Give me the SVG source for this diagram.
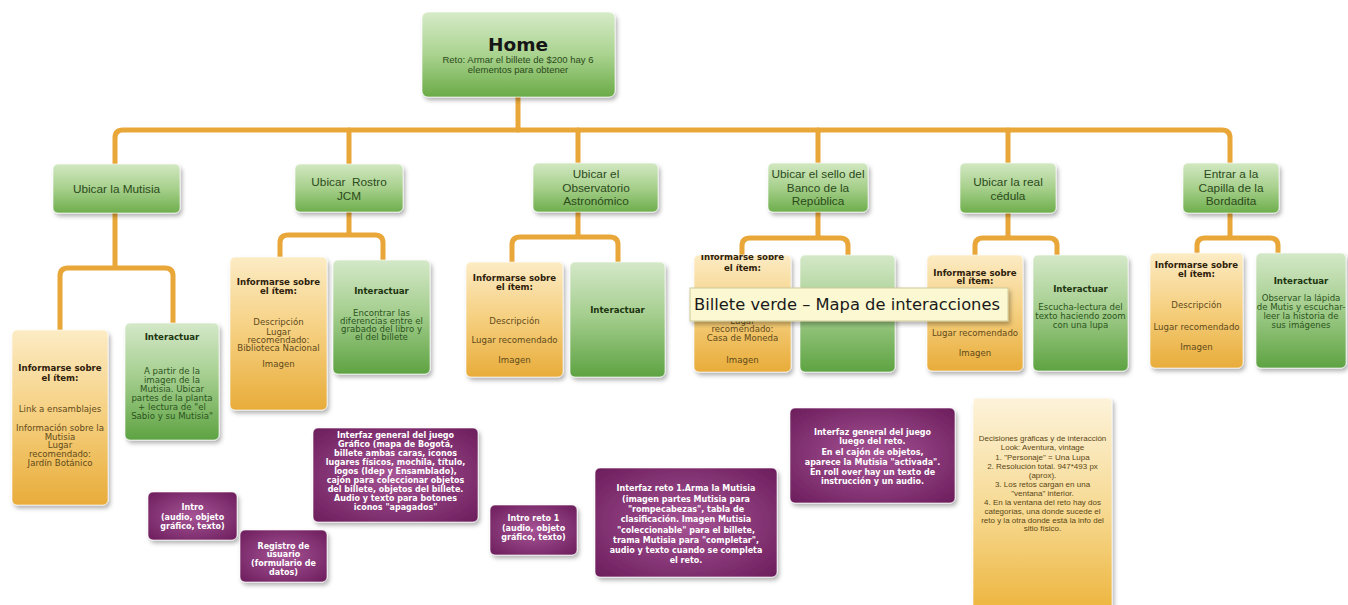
<svg xmlns="http://www.w3.org/2000/svg" width="1348" height="605" viewBox="0 0 1348 605">
<defs>
<linearGradient id="gL1" x1="0" y1="0" x2="0" y2="1"><stop offset="0" stop-color="#d2e8c2"/><stop offset="0.5" stop-color="#a7d08c"/><stop offset="1" stop-color="#6eae4c"/></linearGradient>
<linearGradient id="gHome" x1="0" y1="0" x2="0" y2="1"><stop offset="0" stop-color="#d6ebc8"/><stop offset="0.5" stop-color="#aad38f"/><stop offset="1" stop-color="#6aab47"/></linearGradient>
<linearGradient id="gG2" x1="0" y1="0" x2="0" y2="1"><stop offset="0" stop-color="#d4e8c8"/><stop offset="0.45" stop-color="#a6cf90"/><stop offset="1" stop-color="#5ea342"/></linearGradient>
<linearGradient id="gY" x1="0" y1="0" x2="0" y2="1"><stop offset="0" stop-color="#fcebc4"/><stop offset="0.5" stop-color="#f5cf7e"/><stop offset="1" stop-color="#e8ac3a"/></linearGradient>
<linearGradient id="gYbig" x1="0" y1="0" x2="0" y2="1"><stop offset="0" stop-color="#fdf3da"/><stop offset="0.55" stop-color="#f6d88f"/><stop offset="1" stop-color="#edb53e"/></linearGradient>
<radialGradient id="gP" cx="0.5" cy="0.5" r="0.7"><stop offset="0" stop-color="#a65495"/><stop offset="1" stop-color="#6c1d5c"/></radialGradient>
<filter id="sh" x="-10%" y="-10%" width="130%" height="130%"><feDropShadow dx="2" dy="3" stdDeviation="2" flood-color="#000" flood-opacity="0.3"/></filter>
<clipPath id="clipBanco"><rect x="694" y="255" width="97" height="117" rx="5"/></clipPath>
</defs>
<style>
.box{filter:url(#sh);stroke:#ffffff;stroke-opacity:0.6;stroke-width:1}
.l1{fill:url(#gL1)}
.g2{fill:url(#gG2)}
.y2{fill:url(#gY)}
.pp{fill:url(#gP)}
.t1{font-family:"Liberation Sans",Arial,sans-serif;font-size:11.8px;fill:#2b4a1b;text-anchor:middle;white-space:pre}
.hd{font-family:"DejaVu Sans",Verdana,sans-serif;font-weight:bold;font-size:8.6px;text-anchor:middle}
.bd{font-family:"DejaVu Sans",Verdana,sans-serif;font-size:8.6px;text-anchor:middle}
.yh{fill:#2e210b}
.yb{fill:#5f4a1a}
.gh{fill:#1d3510}
.gb{fill:#2c5420}
.pt{font-family:"DejaVu Sans",Verdana,sans-serif;font-weight:bold;font-size:8px;fill:#ffffff;text-anchor:middle}
.bt{font-family:"Liberation Sans",Arial,sans-serif;font-size:8px;fill:#5a4716;text-anchor:middle}
.con{fill:none;stroke:#e9a739;stroke-width:5;stroke-linecap:round;stroke-linejoin:round}
</style>
<rect width="1348" height="605" fill="#ffffff"/>

<g id="connectors">
<path class="con" d="M518,97 V130"/>
<path class="con" d="M115,164 V138 Q115,130 123,130 H1222 Q1230,130 1230,138 V163"/>
<path class="con" d="M349,130 V164 M578,130 V163 M818,130 V163 M1008,130 V163"/>
<path class="con" d="M115,213 V268 M60,330 V276 Q60,268 68,268 H165 Q173,268 173,276 V323"/>
<path class="con" d="M349,212 V235 M280,257 V243 Q280,235 288,235 H375 Q383,235 383,243 V260"/>
<path class="con" d="M578,212 V237 M512,262 V245 Q512,237 520,237 H610 Q618,237 618,245 V262"/>
<path class="con" d="M818,212 V238 M742,255 V246 Q742,238 750,238 H840 Q848,238 848,246 V255"/>
<path class="con" d="M1008,213 V238 M975,255 V246 Q975,238 983,238 H1049 Q1057,238 1057,246 V255"/>
<path class="con" d="M1230,213 V238 M1197,253 V246 Q1197,238 1205,238 H1270 Q1278,238 1278,246 V253"/>
</g>

<g id="home">
<rect class="box" x="422" y="12" width="193" height="85" rx="6" fill="url(#gHome)"/>
<text x="518" y="51" font-family="'DejaVu Sans',Verdana,sans-serif" font-weight="bold" font-size="18.5" fill="#161616" text-anchor="middle">Home</text>
<text x="518" y="63" font-family="'Liberation Sans',Arial,sans-serif" font-size="9.5" fill="#2b4a1b" text-anchor="middle">Reto: Armar el billete de $200 hay 6</text>
<text x="518" y="73" font-family="'Liberation Sans',Arial,sans-serif" font-size="9.5" fill="#2b4a1b" text-anchor="middle">elementos para obtener</text>
</g>

<g id="n-mutisia">
<rect class="box l1" x="53" y="164" width="127" height="49" rx="5"/>
<text class="t1" x="116.5" y="193">Ubicar la Mutisia</text>
</g>
<g id="n-rostro">
<rect class="box l1" x="295" y="164" width="108" height="48" rx="5"/>
<text class="t1" x="349" y="186">Ubicar  Rostro</text>
<text class="t1" x="349" y="200">JCM</text>
</g>
<g id="n-observatorio">
<rect class="box l1" x="533" y="163" width="125" height="49" rx="5"/>
<text class="t1" x="596" y="178">Ubicar el</text>
<text class="t1" x="596" y="192">Observatorio</text>
<text class="t1" x="596" y="205">Astronómico</text>
</g>
<g id="n-banco">
<rect class="box l1" x="768" y="163" width="100" height="49" rx="5"/>
<text class="t1" x="818" y="178">Ubicar el sello del</text>
<text class="t1" x="818" y="192">Banco de la</text>
<text class="t1" x="818" y="205">República</text>
</g>
<g id="n-cedula">
<rect class="box l1" x="960" y="163" width="96" height="50" rx="5"/>
<text class="t1" x="1008" y="186">Ubicar la real</text>
<text class="t1" x="1008" y="200">cédula</text>
</g>
<g id="n-capilla">
<rect class="box l1" x="1183" y="163" width="96" height="50" rx="5"/>
<text class="t1" x="1231" y="178">Entrar a la</text>
<text class="t1" x="1231" y="192">Capilla de la</text>
<text class="t1" x="1231" y="205">Bordadita</text>
</g>

<g id="mutisia-info">
<rect class="box y2" x="12" y="330" width="96" height="175" rx="5"/>
<text class="hd yh" x="60" y="371">Informarse sobre</text>
<text class="hd yh" x="60" y="381">el ítem:</text>
<text class="bd yb" x="60" y="412">Link a ensamblajes</text>
<text class="bd yb" x="60" y="431">Información sobre la</text>
<text class="bd yb" x="60" y="440">Mutisia</text>
<text class="bd yb" x="60" y="448">Lugar</text>
<text class="bd yb" x="60" y="457">recomendado:</text>
<text class="bd yb" x="60" y="466">Jardín Botánico</text>
</g>
<g id="mutisia-inter">
<rect class="box g2" x="125" y="323" width="94" height="117" rx="5"/>
<text class="hd gh" x="172" y="340">Interactuar</text>
<text class="bd gb" x="172" y="374">A partir de la</text>
<text class="bd gb" x="172" y="383">imagen de la</text>
<text class="bd gb" x="172" y="392">Mutisia. Ubicar</text>
<text class="bd gb" x="172" y="401">partes de la planta</text>
<text class="bd gb" x="172" y="410">+ lectura de "el</text>
<text class="bd gb" x="172" y="419">Sabio y su Mutisia"</text>
</g>

<g id="rostro-info">
<rect class="box y2" x="230" y="257" width="97" height="153" rx="5"/>
<text class="hd yh" x="278.5" y="285">Informarse sobre</text>
<text class="hd yh" x="278.5" y="294">el ítem:</text>
<text class="bd yb" x="278.5" y="325">Descripción</text>
<text class="bd yb" x="278.5" y="335">Lugar</text>
<text class="bd yb" x="278.5" y="343">recomendado:</text>
<text class="bd yb" x="278.5" y="351">Biblioteca Nacional</text>
<text class="bd yb" x="278.5" y="367">Imagen</text>
</g>
<g id="rostro-inter">
<rect class="box g2" x="333" y="260" width="97" height="114" rx="5"/>
<text class="hd gh" x="381.5" y="294">Interactuar</text>
<text class="bd gb" x="381.5" y="316">Encontrar las</text>
<text class="bd gb" x="381.5" y="324">diferencias entre el</text>
<text class="bd gb" x="381.5" y="332">grabado del libro y</text>
<text class="bd gb" x="381.5" y="340">el del billete</text>
</g>

<g id="obs-info">
<rect class="box y2" x="466" y="262" width="97" height="115" rx="5"/>
<text class="hd yh" x="514.5" y="281">Informarse sobre</text>
<text class="hd yh" x="514.5" y="290">el ítem:</text>
<text class="bd yb" x="514.5" y="324">Descripción</text>
<text class="bd yb" x="514.5" y="343">Lugar recomendado</text>
<text class="bd yb" x="514.5" y="363">Imagen</text>
</g>
<g id="obs-inter">
<rect class="box g2" x="570" y="262" width="95" height="115" rx="5"/>
<text class="hd gh" x="617.5" y="313">Interactuar</text>
</g>

<g id="banco-info">
<rect class="box y2" x="694" y="255" width="97" height="117" rx="5"/>
<g clip-path="url(#clipBanco)">
<text class="hd yh" x="742.5" y="260">Informarse sobre</text>
<text class="hd yh" x="742.5" y="271">el ítem:</text>
<text class="bd yb" x="742.5" y="324">Lugar</text>
<text class="bd yb" x="742.5" y="332">recomendado:</text>
<text class="bd yb" x="742.5" y="341">Casa de Moneda</text>
<text class="bd yb" x="742.5" y="363">Imagen</text>
</g>
</g>
<g id="banco-inter">
<rect class="box g2" x="800" y="255" width="95" height="117" rx="5"/>
</g>

<g id="cedula-info">
<rect class="box y2" x="927" y="255" width="96" height="116" rx="5"/>
<text class="hd yh" x="975" y="276">Informarse sobre</text>
<text class="hd yh" x="975" y="284">el ítem:</text>
<text class="bd yb" x="975" y="336">Lugar recomendado</text>
<text class="bd yb" x="975" y="356">Imagen</text>
</g>
<g id="cedula-inter">
<rect class="box g2" x="1033" y="255" width="95" height="116" rx="5"/>
<text class="hd gh" x="1080.5" y="292">Interactuar</text>
<text class="bd gb" x="1080.5" y="310">Escucha-lectura del</text>
<text class="bd gb" x="1080.5" y="319">texto haciendo zoom</text>
<text class="bd gb" x="1080.5" y="328">con una lupa</text>
</g>

<g id="capilla-info">
<rect class="box y2" x="1150" y="253" width="93" height="115" rx="5"/>
<text class="hd yh" x="1196.5" y="268">Informarse sobre</text>
<text class="hd yh" x="1196.5" y="277">el ítem:</text>
<text class="bd yb" x="1196.5" y="308">Descripción</text>
<text class="bd yb" x="1196.5" y="330">Lugar recomendado</text>
<text class="bd yb" x="1196.5" y="350">Imagen</text>
</g>
<g id="capilla-inter">
<rect class="box g2" x="1256" y="253" width="90" height="115" rx="5"/>
<text class="hd gh" x="1301" y="284">Interactuar</text>
<text class="bd gb" x="1301" y="301">Observar la lápida</text>
<text class="bd gb" x="1301" y="310">de Mutis y escuchar-</text>
<text class="bd gb" x="1301" y="319">leer la historia de</text>
<text class="bd gb" x="1301" y="328">sus imágenes</text>
</g>

<g id="tooltip">
<rect x="690" y="288" width="318" height="33" fill="#fbf8d2" stroke="#cfc99a" stroke-width="1" filter="url(#sh)"/>
<text x="694" y="310" font-family="'DejaVu Sans',Verdana,sans-serif" font-size="16.2" fill="#1a1a1a" textLength="306" lengthAdjust="spacingAndGlyphs">Billete verde – Mapa de interacciones</text>
</g>

<g id="p-intro">
<rect class="box pp" x="148" y="492" width="89" height="48" rx="5"/>
<text class="pt" x="192.5" y="510">Intro</text>
<text class="pt" x="192.5" y="520">(audio, objeto</text>
<text class="pt" x="192.5" y="529">gráfico, texto)</text>
</g>
<g id="p-registro">
<rect class="box pp" x="240" y="530" width="87" height="52" rx="5"/>
<text class="pt" x="283.5" y="549">Registro de</text>
<text class="pt" x="283.5" y="557">usuario</text>
<text class="pt" x="283.5" y="566">(formulario de</text>
<text class="pt" x="283.5" y="575">datos)</text>
</g>
<g id="p-interfaz-general">
<rect class="box pp" x="313" y="428" width="165" height="94" rx="5"/>
<text class="pt" x="395.5" y="438">Interfaz general del juego</text>
<text class="pt" x="395.5" y="447">Gráfico (mapa de Bogotá,</text>
<text class="pt" x="395.5" y="456">billete ambas caras, iconos</text>
<text class="pt" x="395.5" y="465">lugares físicos, mochila, título,</text>
<text class="pt" x="395.5" y="474">logos (Idep y Ensamblado),</text>
<text class="pt" x="395.5" y="483">cajón para coleccionar objetos</text>
<text class="pt" x="395.5" y="492">del billete, objetos del billete.</text>
<text class="pt" x="395.5" y="501">Audio y texto para botones</text>
<text class="pt" x="395.5" y="510">iconos "apagados"</text>
</g>
<g id="p-intro-reto">
<rect class="box pp" x="490" y="505" width="87" height="50" rx="5"/>
<text class="pt" x="533.5" y="521">Intro reto 1</text>
<text class="pt" x="533.5" y="531">(audio, objeto</text>
<text class="pt" x="533.5" y="540">gráfico, texto)</text>
</g>
<g id="p-interfaz-reto">
<rect class="box pp" x="595" y="468" width="182" height="109" rx="5"/>
<text class="pt" x="686" y="491">Interfaz reto 1.Arma la Mutisia</text>
<text class="pt" x="686" y="502">(imagen partes Mutisia para</text>
<text class="pt" x="686" y="512">"rompecabezas", tabla de</text>
<text class="pt" x="686" y="522">clasificación. Imagen Mutisia</text>
<text class="pt" x="686" y="533">"coleccionable" para el billete,</text>
<text class="pt" x="686" y="543">trama Mutisia para "completar",</text>
<text class="pt" x="686" y="553">audio y texto cuando se completa</text>
<text class="pt" x="686" y="563">el reto.</text>
</g>
<g id="p-interfaz-luego">
<rect class="box pp" x="790" y="408" width="165" height="95" rx="5"/>
<text class="pt" x="872.5" y="435">Interfaz general del juego</text>
<text class="pt" x="872.5" y="444">luego del reto.</text>
<text class="pt" x="872.5" y="455">En el cajón de objetos,</text>
<text class="pt" x="872.5" y="465">aparece la Mutisia "activada".</text>
<text class="pt" x="872.5" y="475">En roll over hay un texto de</text>
<text class="pt" x="872.5" y="484">instrucción y un audio.</text>
</g>

<g id="decisiones">
<rect class="box" x="973" y="398" width="139" height="212" rx="4" fill="url(#gYbig)"/>
<text class="bt" x="1042.5" y="441">Decisiones gráficas y de interacción</text>
<text class="bt" x="1042.5" y="450">Look: Aventura, vintage</text>
<text class="bt" x="1042.5" y="460">1. "Personaje" = Una Lupa</text>
<text class="bt" x="1042.5" y="469">2. Resolución total. 947*493 px</text>
<text class="bt" x="1042.5" y="478">(aprox).</text>
<text class="bt" x="1042.5" y="487">3. Los retos cargan en una</text>
<text class="bt" x="1042.5" y="496">"ventana" interior.</text>
<text class="bt" x="1042.5" y="505">4. En la ventana del reto hay dos</text>
<text class="bt" x="1042.5" y="514">categorías, una donde sucede el</text>
<text class="bt" x="1042.5" y="523">reto y la otra donde está la info del</text>
<text class="bt" x="1042.5" y="531">sitio físico.</text>
</g>
</svg>
